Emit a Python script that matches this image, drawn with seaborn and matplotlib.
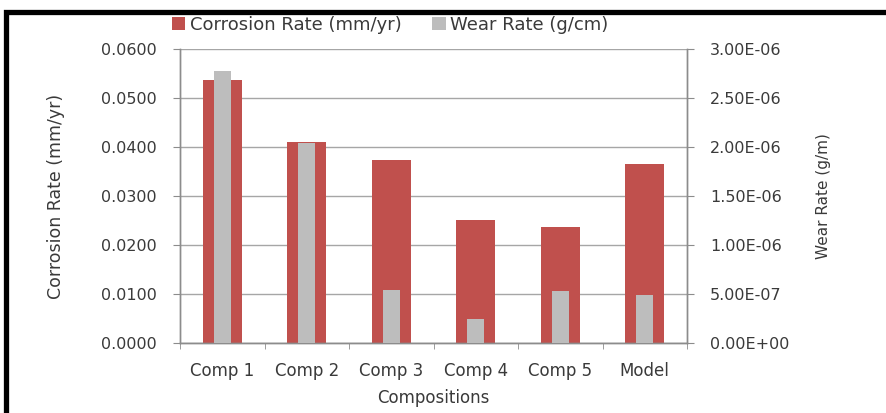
import matplotlib
matplotlib.use("Agg")
import matplotlib.pyplot as plt
import seaborn as sns
import pandas as pd
import numpy as np
from matplotlib.patches import Rectangle, Patch
from matplotlib.ticker import FixedLocator

categories = ["Comp 1", "Comp 2", "Comp 3", "Comp 4", "Comp 5", "Model"]
corrosion_rate = [0.0538, 0.0410, 0.0373, 0.0252, 0.0236, 0.0365]
wear_rate = [2.78e-6, 2.04e-6, 5.4e-7, 2.5e-7, 5.3e-7, 4.9e-7]
left_ticks = [0.0, 0.01, 0.02, 0.03, 0.04, 0.05, 0.06]
left_labels = ["0.0000", "0.0100", "0.0200", "0.0300", "0.0400", "0.0500", "0.0600"]
right_ticks = [0.0, 5e-7, 1e-6, 1.5e-6, 2e-6, 2.5e-6, 3e-6]
right_labels = ["0.00E+00", "5.00E-07", "1.00E-06", "1.50E-06", "2.00E-06", "2.50E-06", "3.00E-06"]

RED = "#C0504D"
GREY = "#BDBDBD"
AX_COL = "#8C8C8C"
TXT = "#3A3A3A"

sns.set_style("white")
plt.rcParams["font.family"] = ["DejaVu Sans"]

df = pd.DataFrame({"Composition": categories, "Corrosion": corrosion_rate, "Wear": wear_rate})

fig = plt.figure(figsize=(8.86, 4.13), dpi=100)
ax = fig.add_axes([180 / 886, 1 - 343 / 413, (687 - 180) / 886, (343 - 49.3) / 413])
sns.barplot(data=df, x="Composition", y="Corrosion", color=RED, saturation=1,
            width=0.46, ax=ax, zorder=2, linewidth=0)
ax2 = ax.twinx()
sns.barplot(data=df, x="Composition", y="Wear", color=GREY, saturation=1,
            width=0.2, ax=ax2, zorder=3, linewidth=0)

ax.set_ylim(0, 0.06)
ax2.set_ylim(0, 3e-6)
ax.set_xlim(-0.5, len(categories) - 0.5)

ax.set_yticks(left_ticks)
ax.set_yticklabels(left_labels, fontsize=11.5, color=TXT)
ax2.set_yticks(right_ticks)
ax2.set_yticklabels(right_labels, fontsize=11.5, color=TXT)

ax.set_xticks(range(len(categories)))
ax.set_xticklabels(categories, fontsize=12, color=TXT)
ax.xaxis.set_minor_locator(FixedLocator(np.arange(-0.5, len(categories), 1.0)))
ax.tick_params(axis="x", which="major", length=0, pad=14)
ax.tick_params(axis="x", which="minor", length=4, color=AX_COL, direction="out", bottom=True)
ax.tick_params(axis="y", length=5, color=AX_COL, direction="out", left=True, pad=11.5)
ax2.tick_params(axis="y", length=5, color=AX_COL, direction="out", right=True, pad=11.5)

for a in (ax, ax2):
    a.spines["top"].set_visible(False)
    for s in ["left", "right", "bottom"]:
        a.spines[s].set_color(AX_COL)
        a.spines[s].set_linewidth(1.0)

ax.grid(axis="y", color="#A6A6A6", linewidth=1.0, zorder=0)
ax.set_axisbelow(True)
ax2.grid(False)

ax.set_xlabel("Compositions", fontsize=12, color=TXT, labelpad=6)
ax.set_ylabel("Corrosion Rate (mm/yr)", fontsize=12.5, color=TXT, labelpad=26)
ax2.set_ylabel("Wear Rate (g/m)", fontsize=11, color=TXT, labelpad=19)

handles = [Patch(facecolor=RED, edgecolor="none", label="Corrosion Rate (mm/yr)"),
           Patch(facecolor=GREY, edgecolor="none", label="Wear Rate (g/cm)")]
leg = fig.legend(handles=handles, loc="center", bbox_to_anchor=(390 / 886, 1 - 25 / 413), ncol=2,
                 frameon=False, handlelength=0.75, handleheight=0.75, handletextpad=0.25,
                 columnspacing=1.7, prop={"size": 13})
for t in leg.get_texts():
    t.set_color(TXT)

border = Rectangle((6 / 886, -0.05), 1.0, 1 - 12.5 / 413 + 0.05, transform=fig.transFigure,
                   fill=False, edgecolor="black", linewidth=3.8, clip_on=False)
fig.add_artist(border)

fig.savefig("out.png", dpi=100)
